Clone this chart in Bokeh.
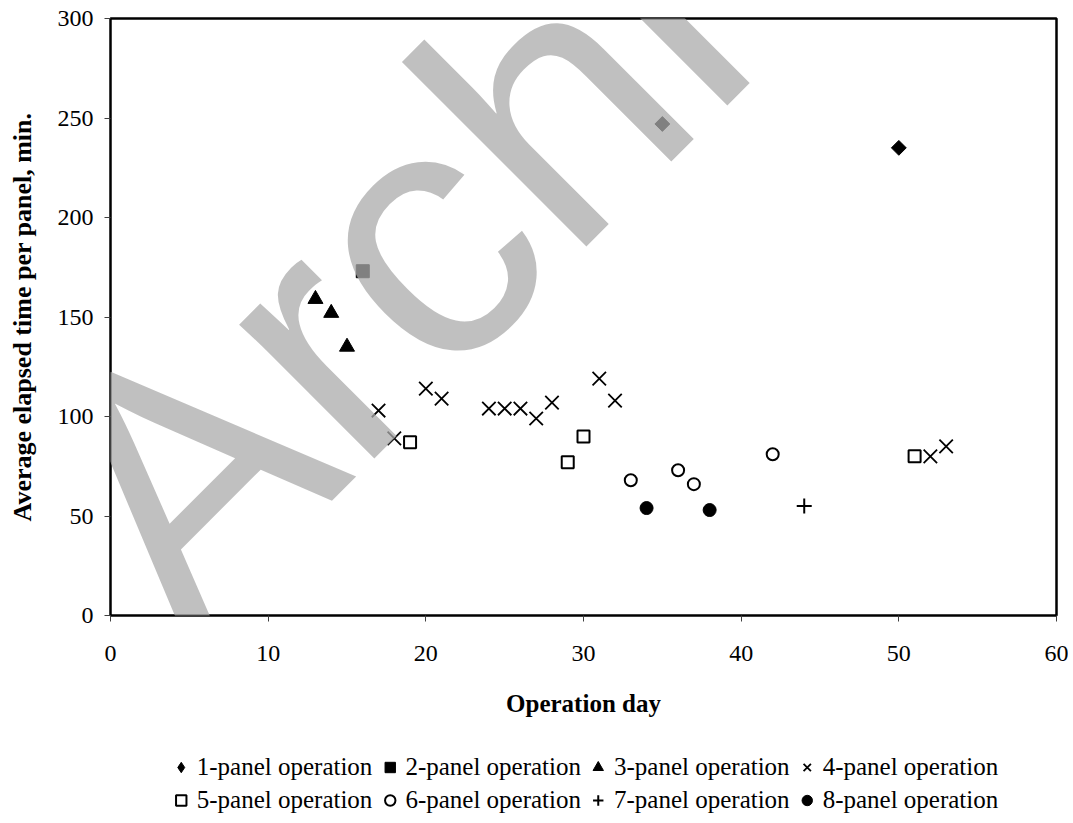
import numpy as np
from bokeh.plotting import figure
from bokeh.layouts import column
from bokeh.models import Range1d, Legend, LegendItem, Label, FixedTicker
from bokeh.embed import file_html
from bokeh.resources import INLINE

# ---- data (operation day, average elapsed time per panel in min.) ----
p1_day = [35, 50]
p1_val = [247, 235]
p2_day = [16]
p2_val = [173]
p3_day = [13, 14, 15]
p3_val = [159, 152, 135]
p4_day = [17, 18, 20, 21, 24, 25, 26, 27, 28, 31, 32, 52, 53]
p4_val = [103, 89, 114, 109, 104, 104, 104, 99, 107, 119, 108, 80, 85]
p5_day = [19, 29, 30, 51]
p5_val = [87, 77, 90, 80]
p6_day = [33, 36, 37, 42]
p6_val = [68, 73, 66, 81]
p7_day = [44]
p7_val = [55]
p8_day = [34, 38]
p8_val = [54, 53]

labels = ["1-panel operation", "2-panel operation", "3-panel operation", "4-panel operation",
          "5-panel operation", "6-panel operation", "7-panel operation", "8-panel operation"]
x_ticks = [0, 10, 20, 30, 40, 50, 60]
y_ticks = [0, 50, 100, 150, 200, 250, 300]

series = [(p1_day, p1_val), (p2_day, p2_val), (p3_day, p3_val), (p4_day, p4_val),
          (p5_day, p5_val), (p6_day, p6_val), (p7_day, p7_val), (p8_day, p8_val)]

styles = [
    dict(marker="square", angle=np.pi / 4, size=10.5, fill_color="black", line_color="black"),
    dict(marker="square", size=13, fill_color="black", line_color="black"),
    dict(marker="triangle", size=15, fill_color="black", line_color="black"),
    dict(marker="x", size=19, line_color="black", line_width=1.8),
    dict(marker="square", size=12, fill_color="white", line_color="black", line_width=2),
    dict(marker="circle", size=12, fill_color="white", line_color="black", line_width=2),
    dict(marker="cross", size=15, line_color="black", line_width=2),
    dict(marker="circle", size=13, fill_color="black", line_color="black"),
]
# legend keys: same styles, but the diamond key is drawn as a diamond glyph
legend_styles = [dict(marker="diamond", fill_color="black", line_color="black")] + styles[1:]

SERIF = "Liberation Serif"
W = 1068

p = figure(width=W, height=741, x_range=Range1d(0, 60), y_range=Range1d(0, 300),
           output_backend="svg", toolbar_location=None,
           min_border_left=110, min_border_right=12, min_border_top=18, min_border_bottom=126,
           x_axis_label="Operation day", y_axis_label="Average elapsed time per panel, min.")
p.grid.visible = False
p.outline_line_color = "black"
p.outline_line_width = 2.5
p.background_fill_color = "white"
p.border_fill_color = "white"

for ax in (p.xaxis[0], p.yaxis[0]):
    ax.axis_line_color = None
    ax.major_tick_in = 0
    ax.major_tick_out = 6
    ax.major_tick_line_color = "#404040"
    ax.major_tick_line_width = 1
    ax.minor_tick_line_color = None
    ax.major_label_text_font = SERIF
    ax.major_label_text_font_size = "24px"
    ax.major_label_text_color = "black"
    ax.axis_label_text_font = SERIF
    ax.axis_label_text_font_style = "bold"
    ax.axis_label_text_color = "black"

p.xaxis[0].ticker = FixedTicker(ticks=x_ticks)
p.yaxis[0].ticker = FixedTicker(ticks=y_ticks)
p.xaxis[0].major_label_standoff = 24
p.xaxis[0].axis_label_standoff = 26
p.xaxis[0].axis_label_text_font_size = "25px"
p.yaxis[0].major_label_standoff = 11
p.yaxis[0].axis_label_standoff = 18
p.yaxis[0].axis_label_text_font_size = "26px"

for (xs, ys), st in zip(series, styles):
    p.scatter(xs, ys, **st)

# watermark
wm = Label(x=-12, y=58, x_units="screen", y_units="screen", text="Archive",
           angle=45, angle_units="deg", text_font="Liberation Sans", text_font_size="360px",
           text_color="#ababab", text_alpha=0.75, text_align="left", text_baseline="alphabetic")
p.add_layout(wm)

# legend strip below the chart (same horizontal frame as the chart);
# its renderers hold the first point of each series, which lies outside this strip's view
lf = figure(width=W, height=78, x_range=Range1d(0, 1), y_range=Range1d(0, 1),
            output_backend="svg", toolbar_location=None,
            min_border_left=110, min_border_right=12, min_border_top=0, min_border_bottom=0,
            x_axis_location=None, y_axis_location=None)
lf.grid.visible = False
lf.outline_line_color = None
lf.border_fill_color = "white"
leg_r = [lf.scatter(xs[:1], ys[:1], **st) for (xs, ys), st in zip(series, legend_styles)]

def make_legend(lbls, rends, loc, margin):
    return Legend(items=[LegendItem(label=l, renderers=[r]) for l, r in zip(lbls, rends)],
                  orientation="horizontal", location=loc,
                  border_line_color=None, background_fill_alpha=0,
                  label_text_font=SERIF, label_text_font_size="25px", label_text_color="black",
                  glyph_width=26, glyph_height=26, label_standoff=3, spacing=4,
                  padding=2, margin=margin)

lf.add_layout(make_legend(labels[:4], leg_r[:4], "top_center", 12))
lf.add_layout(make_legend(labels[4:], leg_r[4:], "bottom_center", 5))

layout = column(p, lf, spacing=0)
open("out.html", "w").write(file_html(layout, INLINE))
